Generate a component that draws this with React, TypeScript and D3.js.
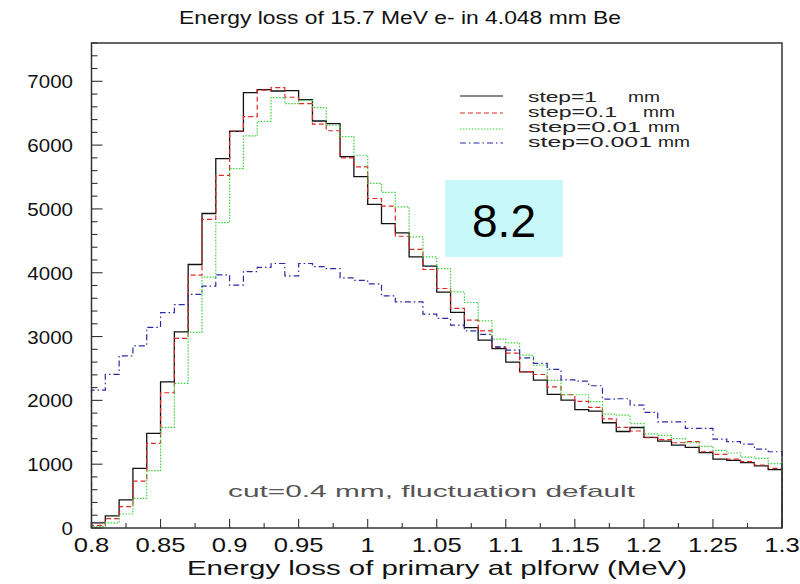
import React from "react";
import * as d3 from "d3";

// ---------- data ----------
const binStart = 0.8;
const binWidth = 0.01;

const step1mm = [80, 190, 440, 935, 1483, 2291, 3074, 4129, 4928, 5789, 6217, 6822, 6870, 6848, 6855, 6713, 6378, 6337, 5820, 5505, 5070, 4771, 4625, 4249, 4103, 3695, 3380, 3140, 2944, 2810, 2600, 2448, 2317, 2095, 2004, 1855, 1832, 1649, 1512, 1575, 1420, 1360, 1300, 1263, 1180, 1080, 1060, 1023, 975, 915];
const step01mm = [40, 146, 334, 736, 1326, 2119, 2970, 3962, 4836, 5525, 6217, 6445, 6860, 6900, 6750, 6650, 6330, 6225, 5800, 5660, 5163, 5045, 4572, 4366, 4051, 3753, 3440, 3257, 3090, 2830, 2740, 2450, 2405, 2213, 2088, 1985, 1890, 1710, 1577, 1520, 1414, 1385, 1336, 1352, 1195, 1154, 1080, 1039, 987, 935];
const step001mm = [20, 80, 219, 465, 898, 1577, 2265, 3066, 3930, 4784, 5632, 6144, 6373, 6743, 6650, 6700, 6587, 6311, 6133, 5841, 5400, 5260, 5032, 4562, 4249, 4066, 3701, 3534, 3246, 2960, 2902, 2709, 2550, 2312, 2088, 2088, 1980, 1785, 1769, 1635, 1475, 1450, 1400, 1336, 1278, 1215, 1175, 1112, 1091, 1008];
const step0001mm = [2161, 2406, 2698, 2855, 3145, 3375, 3500, 3660, 3790, 3965, 3805, 4018, 4083, 4145, 3950, 4145, 4097, 4066, 3918, 3880, 3826, 3636, 3544, 3544, 3351, 3284, 3179, 3090, 3033, 2839, 2787, 2665, 2579, 2485, 2322, 2300, 2229, 2018, 2025, 1926, 1813, 1664, 1664, 1561, 1561, 1392, 1352, 1315, 1235, 1195];

const seriesNames = ["step=1", "step=0.1", "step=0.01", "step=0.001"];
const seriesUnits = ["mm", "mm", "mm", "mm"];

const xTickValues = [0.8, 0.85, 0.9, 0.95, 1, 1.05, 1.1, 1.15, 1.2, 1.25, 1.3];
const xTickLabels = ["0.8", "0.85", "0.9", "0.95", "1", "1.05", "1.1", "1.15", "1.2", "1.25", "1.3"];
const yTickValues = [0, 1000, 2000, 3000, 4000, 5000, 6000, 7000];
const yTickLabels = ["0", "1000", "2000", "3000", "4000", "5000", "6000", "7000"];

const titleText = "Energy loss of 15.7 MeV e- in 4.048 mm Be";
const xAxisTitle = "Energy loss of primary at plforw (MeV)";
const noteText = "cut=0.4 mm, fluctuation default";
const badgeText = "8.2";

// ---------- layout ----------
const W = 800, H = 584;
const L = 91.5, R = 782, T = 43, B = 528;
const FONT = "'Liberation Sans', Arial, Helvetica, sans-serif";

const x = d3.scaleLinear().domain([0.8, 1.3]).range([L, R]);
const y = d3.scaleLinear().domain([0, 7600]).range([B, T]);

const styles = [
  { stroke: "#111111", dash: "none", width: 1.3 },
  { stroke: "#e02828", dash: "5,3", width: 1.2 },
  { stroke: "#3ad33a", dash: "1.5,1.5", width: 1.2 },
  { stroke: "#2a2aa8", dash: "6,3,1.5,3", width: 1.2 },
];
const allSeries = [step1mm, step01mm, step001mm, step0001mm];

const charW = (s: string) =>
  s.split("").reduce((a, c) => a + (c === "." ? 0.278 : 0.556), 0);

function histPath(vals: number[]) {
  const pts: [number, number][] = [[x(binStart), y(0)]];
  vals.forEach((v, i) => {
    const x0 = binStart + i * binWidth;
    pts.push([x(x0), y(v)]);
    pts.push([x(x0 + binWidth), y(v)]);
  });
  pts.push([x(binStart + vals.length * binWidth), y(0)]);
  return d3.line()(pts) as string;
}

export default function App() {
  const yMinor = d3.range(0, 7601, 200);
  const xMinor = d3.range(0, 21).map((i) => 0.8 + i * 0.025);

  const legendRows = [
    { ly: 96, tb: 102, nameW: 69, mmX: 628 },
    { ly: 113, tb: 117, nameW: 89, mmX: 643 },
    { ly: 129, tb: 132, nameW: 113, mmX: 648 },
    { ly: 143, tb: 147, nameW: 124, mmX: 658 },
  ];

  return (
    <div style={{ position: "fixed", left: 0, top: 0 }}>
      <svg width={W} height={H} viewBox={`0 0 ${W} ${H}`} style={{ display: "block", background: "#fff" }}>
        <rect x={0} y={0} width={W} height={H} fill="#fff" />
        {/* title */}
        <text x={179} y={24} fontFamily={FONT} fontSize={18} fill="#111" textLength={442} lengthAdjust="spacingAndGlyphs">
          {titleText}
        </text>

        {/* histograms */}
        <g fill="none">
          {allSeries.map((s, i) => (
            <path key={i} d={histPath(s)} stroke={styles[i].stroke} strokeWidth={styles[i].width}
              strokeDasharray={styles[i].dash} />
          ))}
        </g>

        {/* badge */}
        <rect x={445} y={180} width={118} height={77} fill="#c9f8fb" />
        <text x={504} y={237} fontFamily={FONT} fontSize={46} textAnchor="middle" fill="#000">{badgeText}</text>

        {/* legend */}
        {legendRows.map((r, i) => (
          <g key={i}>
            <line x1={460} x2={503} y1={r.ly} y2={r.ly} stroke={styles[i].stroke} strokeWidth={1.1}
              strokeDasharray={styles[i].dash} />
            <text x={528} y={r.tb} fontFamily={FONT} fontSize={14} fill="#222" textLength={r.nameW} lengthAdjust="spacingAndGlyphs">
              {seriesNames[i]}
            </text>
            <text x={r.mmX} y={r.tb} fontFamily={FONT} fontSize={14} fill="#222" textLength={32} lengthAdjust="spacingAndGlyphs">
              {seriesUnits[i]}
            </text>
          </g>
        ))}

        {/* note */}
        <text x={228} y={497} fontFamily={FONT} fontSize={17} fill="#555" textLength={407} lengthAdjust="spacingAndGlyphs">
          {noteText}
        </text>

        {/* frame */}
        <rect x={L} y={T} width={R - L} height={B - T} fill="none" stroke="#333" strokeWidth={1.5} />

        {/* y ticks */}
        {yMinor.map((v) => {
          const major = v % 1000 === 0;
          return <line key={"ym" + v} x1={L} x2={L + (major ? 11 : 6)} y1={y(v)} y2={y(v)} stroke="#333" strokeWidth={1.1} />;
        })}
        {yTickValues.map((v, i) => (
          <text key={"yl" + v} x={73} y={y(v) + 7} textAnchor="end" fontFamily={FONT} fontSize={19} fill="#111"
            textLength={charW(yTickLabels[i]) * 19 * 1.08} lengthAdjust="spacingAndGlyphs">
            {yTickLabels[i]}
          </text>
        ))}

        {/* x ticks */}
        {xMinor.map((v, i) => {
          const major = i % 2 === 0;
          return <line key={"xm" + i} x1={x(v)} x2={x(v)} y1={B} y2={B - (major ? 9 : 5)} stroke="#333" strokeWidth={1.1} />;
        })}
        {xTickValues.map((v, i) => (
          <text key={"xl" + i} x={x(v)} y={552} textAnchor="middle" fontFamily={FONT} fontSize={21} fill="#111"
            textLength={charW(xTickLabels[i]) * 21 * 1.22} lengthAdjust="spacingAndGlyphs">
            {xTickLabels[i]}
          </text>
        ))}

        {/* x axis title */}
        <text x={187} y={575} fontFamily={FONT} fontSize={21} fill="#111" textLength={500} lengthAdjust="spacingAndGlyphs">
          {xAxisTitle}
        </text>
      </svg>
    </div>
  );
}
